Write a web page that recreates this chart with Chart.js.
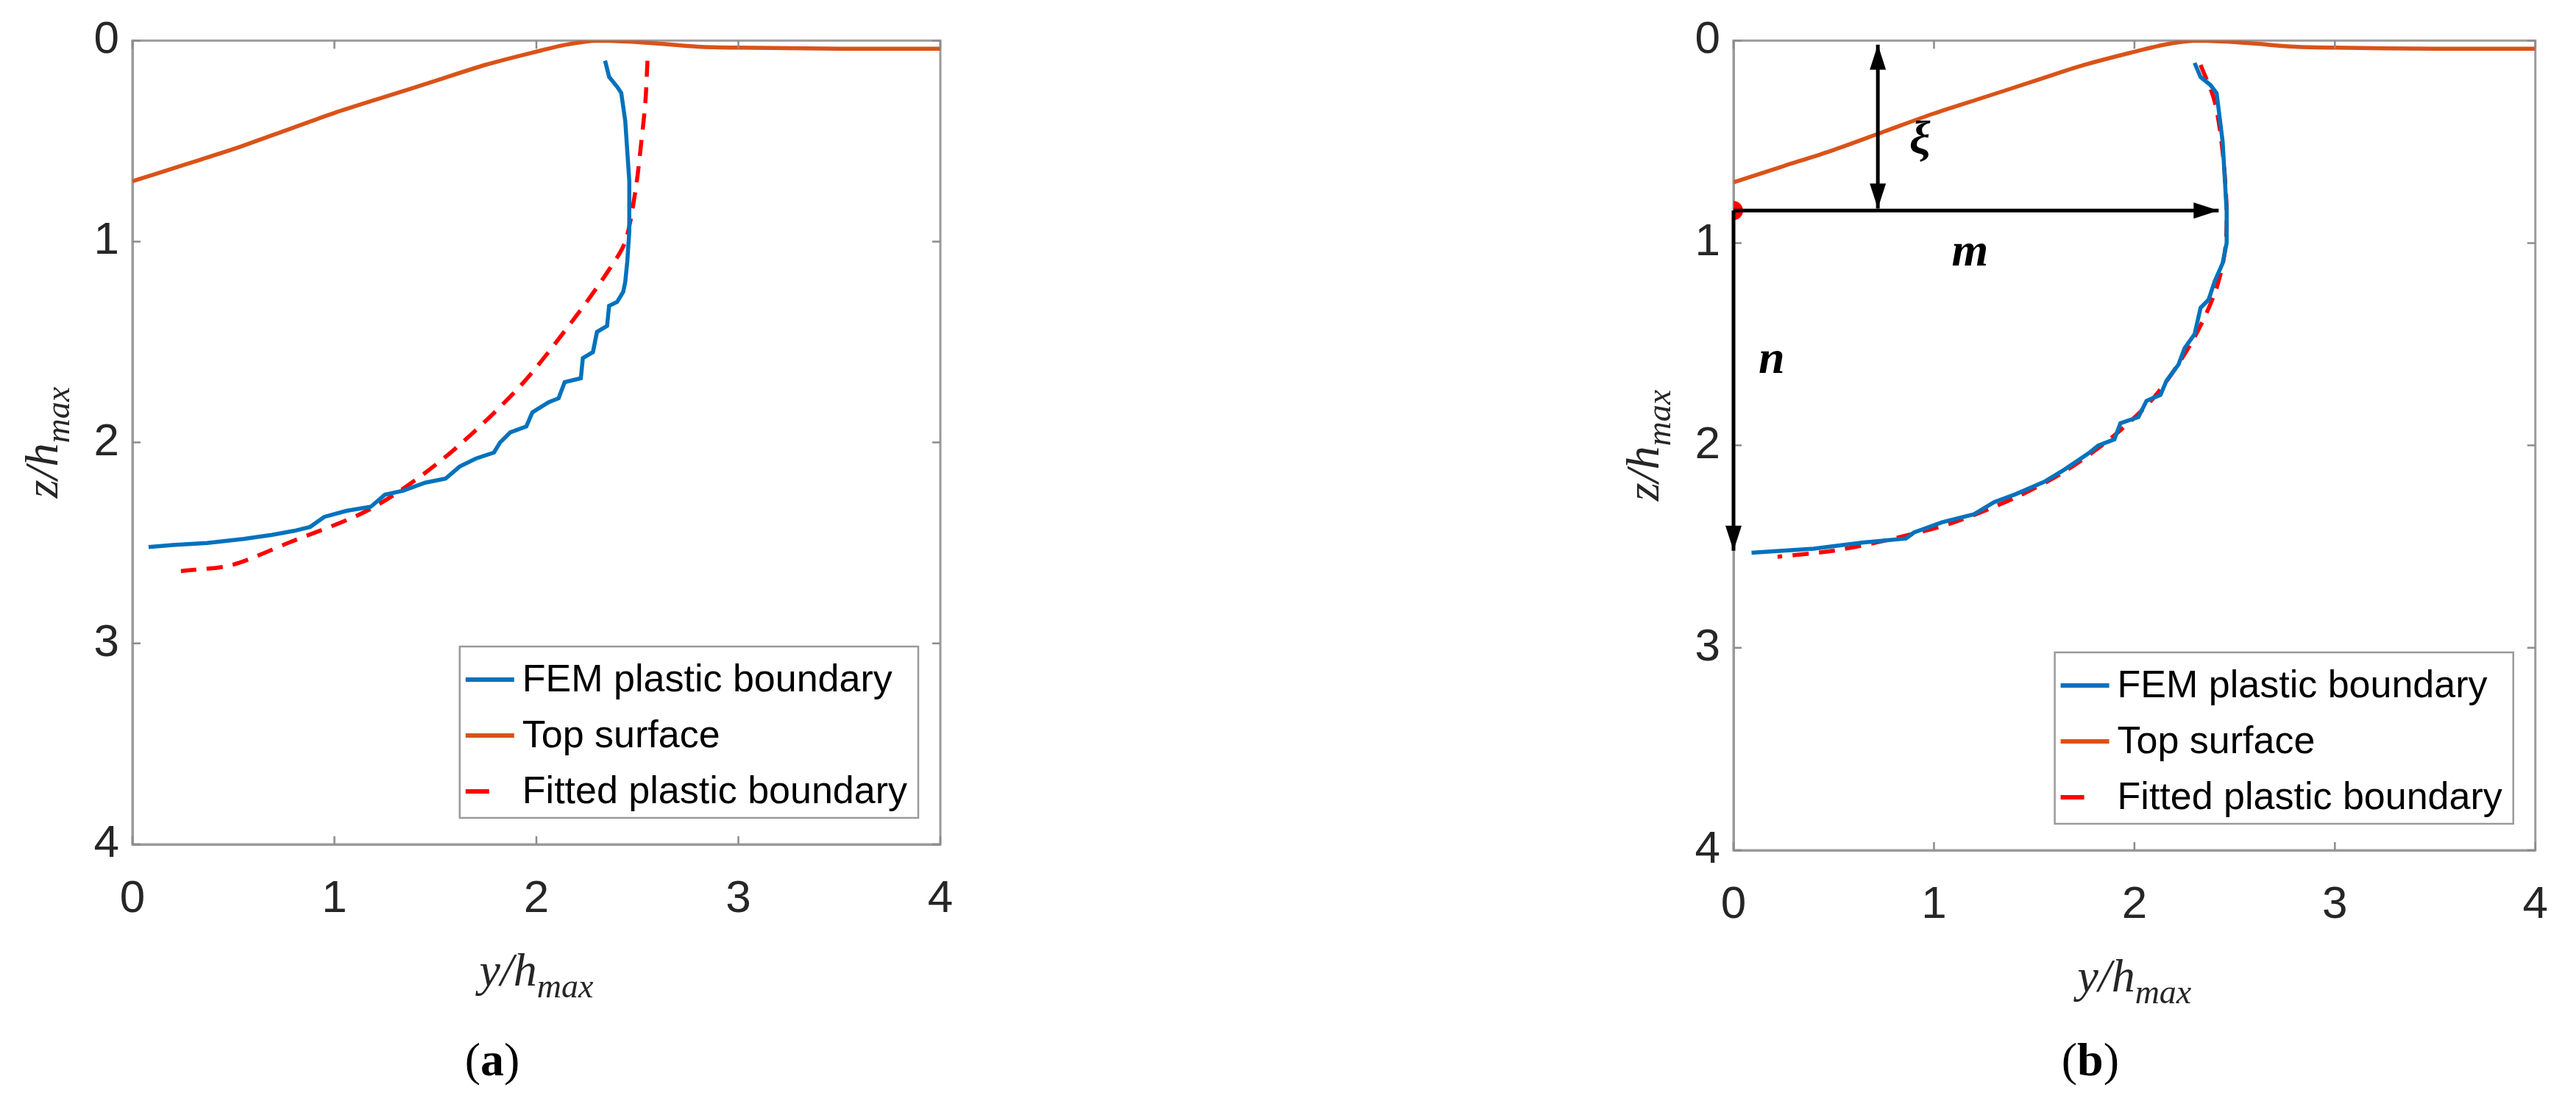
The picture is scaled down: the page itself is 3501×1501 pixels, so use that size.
<!DOCTYPE html>
<html>
<head>
<meta charset="UTF-8">
<title>Plastic boundary</title>
<style>
  body { margin: 0; background: #fff; width: 3501px; height: 1501px; overflow: hidden; }
  .box { position: absolute; top: 0; height: 1501px; }
  #boxA { left: 0; width: 1750px; }
  #boxB { left: 1750px; width: 1751px; }
</style>
</head>
<body>
<div class="box" id="boxA"><canvas id="chartA"></canvas></div>
<div class="box" id="boxB"><canvas id="chartB"></canvas></div>

<script src="https://cdn.jsdelivr.net/npm/chart.js"></script>
<script>
  // valores (y/hmax, z/hmax)
  const ticks = [0, 1, 2, 3, 4];

  const topoX = [0, 0.25, 0.5, 0.75, 1.0, 1.25, 1.5, 1.75, 2.0, 2.15, 2.3, 2.45, 2.6, 2.8, 3.0, 3.5, 4.0];
  const topoZ = [0.70, 0.62, 0.54, 0.45, 0.36, 0.28, 0.20, 0.12, 0.055, 0.02, 0.0, 0.005, 0.015, 0.03, 0.035, 0.04, 0.04];

  const femAX = [2.34, 2.36, 2.40, 2.42, 2.44, 2.46, 2.46, 2.45, 2.44, 2.43, 2.40, 2.36, 2.35, 2.30, 2.28, 2.23, 2.22, 2.14, 2.11, 2.06, 1.98, 1.95, 1.87, 1.82, 1.79, 1.70, 1.62, 1.55, 1.45, 1.34, 1.25, 1.18, 1.06, 0.95, 0.88, 0.80, 0.69, 0.55, 0.37, 0.20, 0.08];
  const femAZ = [0.10, 0.18, 0.23, 0.26, 0.40, 0.70, 0.95, 1.10, 1.20, 1.25, 1.30, 1.32, 1.42, 1.45, 1.55, 1.58, 1.68, 1.70, 1.78, 1.80, 1.85, 1.92, 1.95, 2.00, 2.05, 2.08, 2.12, 2.18, 2.20, 2.24, 2.26, 2.32, 2.34, 2.37, 2.42, 2.44, 2.46, 2.48, 2.50, 2.51, 2.52];

  const fitAX = [2.55, 2.54, 2.52, 2.49, 2.44, 2.36, 2.19, 1.91, 1.54, 1.18, 0.77, 0.49, 0.24];
  const fitAZ = [0.10, 0.30, 0.50, 0.75, 1.00, 1.14, 1.38, 1.73, 2.08, 2.33, 2.50, 2.61, 2.64];

  const femBX = [2.30, 2.33, 2.38, 2.41, 2.44, 2.46, 2.46, 2.44, 2.40, 2.37, 2.33, 2.30, 2.25, 2.22, 2.16, 2.13, 2.06, 2.02, 1.93, 1.90, 1.82, 1.77, 1.65, 1.55, 1.41, 1.30, 1.20, 1.04, 0.90, 0.86, 0.64, 0.40, 0.09];
  const femBZ = [0.11, 0.18, 0.22, 0.26, 0.50, 0.84, 1.00, 1.10, 1.19, 1.28, 1.32, 1.45, 1.52, 1.60, 1.68, 1.75, 1.78, 1.86, 1.89, 1.97, 2.00, 2.04, 2.12, 2.18, 2.24, 2.28, 2.34, 2.38, 2.43, 2.46, 2.48, 2.51, 2.53];

  const fitBX = [2.33, 2.40, 2.44, 2.46, 2.45, 2.40, 2.28, 2.10, 1.90, 1.65, 1.40, 1.10, 0.80, 0.50, 0.22];
  const fitBZ = [0.12, 0.30, 0.55, 0.84, 1.05, 1.25, 1.50, 1.76, 1.95, 2.13, 2.26, 2.38, 2.46, 2.52, 2.55];

  // setas da figura (b): [x1, z1, x2, z2, duas pontas?]
  const setas = [
    [0.72, 0.02, 0.72, 0.83, true],
    [0.00, 0.84, 2.42, 0.84, false],
    [0.00, 0.84, 0.00, 2.52, false]
  ];
  const rotulos = [['ξ', 0.93, 0.50], ['m', 1.18, 1.05], ['n', 0.19, 1.58]];
  const pontoOrigem = [{ x: 0, y: 0.84 }];

  const legendas = ['FEM plastic boundary', 'Top surface', 'Fitted plastic boundary'];

  const AZUL = '#0072BD', LARANJA = '#D95319', VERMELHO = '#FF0000';
  const TEXTO = '#262626';

  function pontos(xs, zs) {
    return xs.map((x, i) => ({ x: x, y: zs[i] }));
  }

  const desenharExtras = {
    id: 'extras',
    afterDatasetsDraw(chart, args, opts) {
      const ctx = chart.ctx;
      const a = chart.chartArea;
      const sx = chart.scales.x, sy = chart.scales.y;
      ctx.save();

      // ticks internos estilo MATLAB
      ctx.strokeStyle = '#8c8c8c';
      ctx.lineWidth = 2.5;
      ticks.forEach(t => {
        const px = sx.getPixelForValue(t), py = sy.getPixelForValue(t);
        ctx.beginPath();
        ctx.moveTo(px, a.bottom); ctx.lineTo(px, a.bottom - 11);
        ctx.moveTo(px, a.top); ctx.lineTo(px, a.top + 11);
        ctx.moveTo(a.left, py); ctx.lineTo(a.left + 11, py);
        ctx.moveTo(a.right, py); ctx.lineTo(a.right - 11, py);
        ctx.stroke();
      });

      // setas e rótulos
      if (opts.anotar) {
        ctx.strokeStyle = '#000';
        ctx.fillStyle = '#000';
        ctx.lineWidth = 5;
        setas.forEach(s => {
          const x1 = sx.getPixelForValue(s[0]), y1 = sy.getPixelForValue(s[1]);
          const x2 = sx.getPixelForValue(s[2]), y2 = sy.getPixelForValue(s[3]);
          ctx.beginPath(); ctx.moveTo(x1, y1); ctx.lineTo(x2, y2); ctx.stroke();
          const cabeca = (xa, ya, xb, yb) => {
            const ang = Math.atan2(yb - ya, xb - xa);
            ctx.beginPath();
            ctx.moveTo(xb, yb);
            ctx.lineTo(xb - 34 * Math.cos(ang) + 11 * Math.sin(ang), yb - 34 * Math.sin(ang) - 11 * Math.cos(ang));
            ctx.lineTo(xb - 34 * Math.cos(ang) - 11 * Math.sin(ang), yb - 34 * Math.sin(ang) + 11 * Math.cos(ang));
            ctx.closePath(); ctx.fill();
          };
          cabeca(x1, y1, x2, y2);
          if (s[4]) cabeca(x2, y2, x1, y1);
        });
        ctx.font = 'italic bold 64px "Liberation Serif"';
        ctx.textAlign = 'center';
        ctx.textBaseline = 'middle';
        rotulos.forEach(r => ctx.fillText(r[0], sx.getPixelForValue(r[1]), sy.getPixelForValue(r[2])));
      }

      // legenda
      const fonte = '52px "Liberation Sans"';
      ctx.font = fonte;
      const larg = Math.max(...legendas.map(t => ctx.measureText(t).width));
      const w = larg + 100, h = 233;
      const lx = a.right - 30 - w, ly = a.bottom - 36 - h;
      ctx.fillStyle = '#fff';
      ctx.fillRect(lx, ly, w, h);
      ctx.strokeStyle = '#9a9a9a';
      ctx.lineWidth = 2.5;
      ctx.strokeRect(lx, ly, w, h);
      const cores = [AZUL, LARANJA, VERMELHO];
      legendas.forEach((t, i) => {
        const cy = ly + 45 + i * 76;
        ctx.strokeStyle = cores[i];
        ctx.lineWidth = 6;
        ctx.beginPath();
        ctx.moveTo(lx + 8, cy);
        ctx.lineTo(lx + (i === 2 ? 40 : 74), cy);
        ctx.stroke();
        ctx.fillStyle = '#000';
        ctx.textAlign = 'left';
        ctx.textBaseline = 'middle';
        ctx.fillText(t, lx + 85, cy + 2);
      });

      // títulos dos eixos com subscrito
      const titulo = (x, y, rot) => {
        ctx.save();
        ctx.translate(x, y);
        ctx.rotate(rot);
        ctx.fillStyle = TEXTO;
        ctx.textBaseline = 'alphabetic';
        ctx.textAlign = 'left';
        ctx.font = 'italic 64px "Liberation Serif"';
        const base = rot ? 'z/h' : 'y/h';
        const w1 = ctx.measureText(base).width;
        ctx.font = 'italic 46px "Liberation Serif"';
        const w2 = ctx.measureText('max').width;
        ctx.font = 'italic 64px "Liberation Serif"';
        ctx.fillText(base, -(w1 + w2) / 2, 20);
        ctx.font = 'italic 46px "Liberation Serif"';
        ctx.fillText('max', -(w1 + w2) / 2 + w1, 36);
        ctx.restore();
      };
      titulo((a.left + a.right) / 2, a.bottom + 172, 0);
      titulo(a.left - 122, (a.top + a.bottom) / 2, -Math.PI / 2);

      // (a) / (b)
      ctx.fillStyle = '#000';
      ctx.textBaseline = 'middle';
      ctx.font = '64px "Liberation Serif"';
      const letra = opts.letra;
      ctx.font = 'bold 64px "Liberation Serif"';
      const wl = ctx.measureText(letra).width;
      ctx.font = '64px "Liberation Serif"';
      const wp = ctx.measureText('(').width;
      const cx = (a.left + a.right) / 2 - 60, cyL = 1445;
      const x0 = cx - (wl + 2 * wp) / 2;
      ctx.textAlign = 'left';
      ctx.fillText('(', x0, cyL);
      ctx.font = 'bold 64px "Liberation Serif"';
      ctx.fillText(letra, x0 + wp, cyL);
      ctx.font = '64px "Liberation Serif"';
      ctx.fillText(')', x0 + wp + wl, cyL);

      ctx.restore();
    }
  };

  function criarGrafico(id, fem, fit, geom, letra, anotar) {
    const datasets = [
      { label: legendas[0], data: fem, borderColor: AZUL, borderWidth: 5.5 },
      { label: legendas[1], data: pontos(topoX, topoZ), borderColor: LARANJA, borderWidth: 5.5 },
      { label: legendas[2], data: fit, borderColor: VERMELHO, borderWidth: 5.5, borderDash: [22, 14] }
    ];
    if (anotar) {
      datasets.push({ label: 'origem', data: pontoOrigem, showLine: false, pointRadius: 13, backgroundColor: VERMELHO, borderWidth: 0 });
    }
    datasets.forEach(d => { if (d.showLine === undefined) { d.showLine = true; d.pointRadius = 0; } d.fill = false; d.tension = 0.3; });
    datasets[0].tension = 0;

    new Chart(document.getElementById(id), {
      type: 'scatter',
      data: { datasets: datasets },
      plugins: [desenharExtras],
      options: {
        responsive: true,
        maintainAspectRatio: false,
        animation: false,
        layout: { padding: { left: 0, top: geom.top, right: geom.right, bottom: 0 } },
        plugins: {
          legend: { display: false },
          tooltip: { enabled: false },
          extras: { letra: letra, anotar: anotar }
        },
        scales: {
          x: {
            type: 'linear', min: 0, max: 4,
            afterBuildTicks: s => { s.ticks = ticks.map(v => ({ value: v })); },
            afterFit: s => { s.height = geom.bottom; },
            grid: { display: false, drawTicks: false },
            border: { display: true, color: '#9a9a9a', width: 3 },
            ticks: { color: TEXTO, padding: 38, font: { family: 'Liberation Sans', size: 62 } }
          },
          y: {
            type: 'linear', min: 0, max: 4, reverse: true,
            afterBuildTicks: s => { s.ticks = ticks.map(v => ({ value: v })); },
            afterFit: s => { s.width = geom.left; },
            grid: { display: false, drawTicks: false },
            border: { display: true, color: '#9a9a9a', width: 3 },
            ticks: { color: TEXTO, padding: 18, font: { family: 'Liberation Sans', size: 62 } }
          }
        }
      },
    });
  }

  // moldura superior/direita
  const moldura = {
    id: 'moldura',
    beforeDatasetsDraw(chart) {
      const a = chart.chartArea, ctx = chart.ctx;
      ctx.save();
      ctx.strokeStyle = '#9a9a9a';
      ctx.lineWidth = 3;
      ctx.strokeRect(a.left, a.top, a.right - a.left, a.bottom - a.top);
      ctx.restore();
    }
  };
  Chart.register(moldura);

  criarGrafico('chartA', pontos(femAX, femAZ), pontos(fitAX, fitAZ),
    { left: 180, top: 53, right: 1750 - 1278, bottom: 1501 - 1148 }, 'a', false);
  criarGrafico('chartB', pontos(femBX, femBZ), pontos(fitBX, fitBZ),
    { left: 606, top: 55, right: 1751 - 1710, bottom: 1501 - 1156 }, 'b', true);
</script>
</body>
</html>
